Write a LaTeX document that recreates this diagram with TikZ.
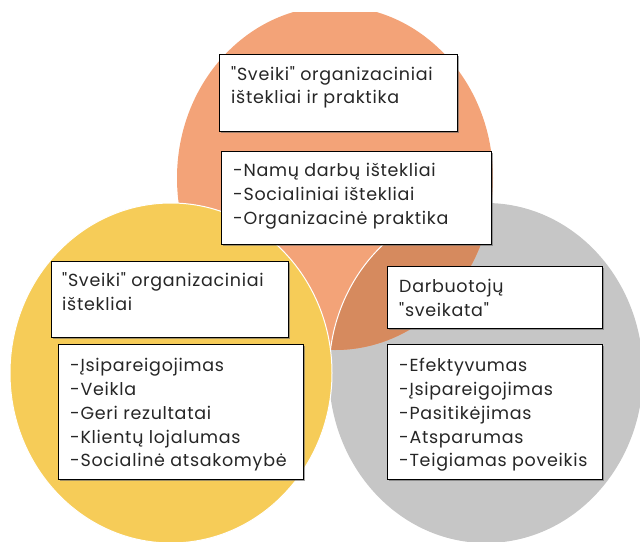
\documentclass[tikz,border=0pt]{standalone}
\usepackage{fontspec}
\setmainfont{Poppins}[Ligatures=TeXOff, LetterSpace=4]
\usetikzlibrary{shadows}
\definecolor{orangeF}{RGB}{243,163,120}
\definecolor{yellowF}{RGB}{246,204,88}
\definecolor{greyF}{RGB}{198,198,198}
\definecolor{brownF}{RGB}{214,138,94}
\tikzset{
  boxnode/.style={draw=black, line width=1.1pt, fill=white, anchor=north west, inner sep=0pt,
    drop shadow={shadow xshift=1pt, shadow yshift=-1.2pt, fill=black!60, opacity=0.6}},
  txtnode/.style={anchor=base west, inner sep=0pt, align=left, font=\fontsize{17.5}{23.8}\selectfont, text=black!85}
}
\begin{document}
\begin{tikzpicture}[x=1pt,y=-1pt]
\useasboundingbox (0,0) rectangle (640,541);
\begin{scope}
  \clip (0,12) rectangle (640,541);
  \fill[greyF] (486,373) ellipse [x radius=157, y radius=170];
  \fill[orangeF] (335,178) ellipse [x radius=158, y radius=172];
  \begin{scope}
    \clip (486,373) ellipse [x radius=157, y radius=170];
    \fill[brownF] (335,178) ellipse [x radius=158, y radius=172];
  \end{scope}
  \begin{scope}
    \clip (335,178) ellipse [x radius=158, y radius=172];
    \draw[white, line width=1pt] (486,373) ellipse [x radius=157, y radius=170];
  \end{scope}
  \fill[yellowF, draw=white, line width=1pt] (171,373) ellipse [x radius=161, y radius=170];
\end{scope}

\node[boxnode, minimum width=238pt, minimum height=77pt] (b1) at (219,54) {};
\node[boxnode, minimum width=270pt, minimum height=93pt] (b2) at (221,151) {};
\node[boxnode, minimum width=237pt, minimum height=76pt] (b3) at (51,261) {};
\node[boxnode, minimum width=245pt, minimum height=135pt] (b4) at (58,344) {};
\node[boxnode, minimum width=215pt, minimum height=62pt] (b5) at (387,266) {};
\node[boxnode, minimum width=215pt, minimum height=135pt] (b6) at (387,344) {};

% anchor base = baseline of the last line
\node[txtnode] (t1) at (231,103.8) {"Sveiki" organizaciniai\\ištekliai ir praktika};
\node[txtnode] (t2) at (233,224.3) {-Namų darbų ištekliai\\-Socialiniai ištekliai\\-Organizacinė praktika};
\node[txtnode] (t3) at (62,310.5) {"Sveiki" organizaciniai\\ištekliai};
\node[txtnode] (t4) at (70,466.9) {-Įsipareigojimas\\-Veikla\\-Geri rezultatai\\-Klientų lojalumas\\-Socialinė atsakomybė};
\node[txtnode] (t5) at (399,316.3) {Darbuotojų\\"sveikata"};
\node[txtnode] (t6) at (399,466.9) {-Efektyvumas\\-Įsipareigojimas\\-Pasitikėjimas\\-Atsparumas\\-Teigiamas poveikis};
\end{tikzpicture}
\end{document}
